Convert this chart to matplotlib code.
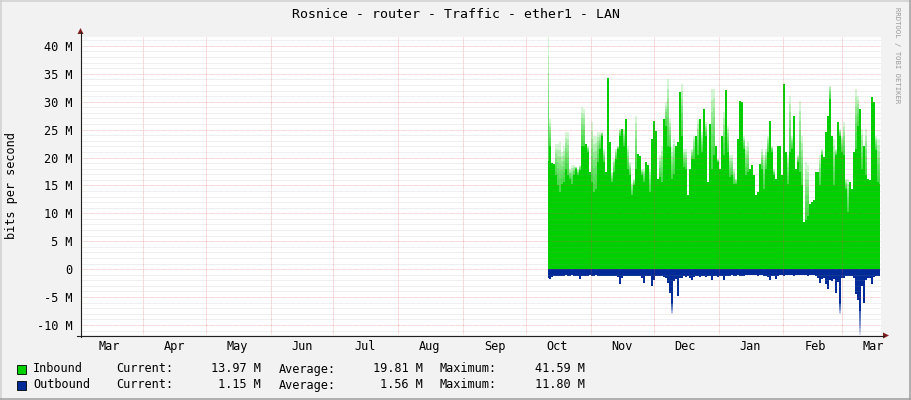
import numpy as np
import pandas as pd
import matplotlib
matplotlib.use("Agg")
import matplotlib.pyplot as plt
from matplotlib.patches import Polygon, Rectangle
from matplotlib.lines import Line2D

# ---------------- data ----------------
title = "Rosnice - router - Traffic - ether1 - LAN"
y_label = "bits per second"
watermark = "RRDTOOL / TOBI OETIKER"

month_labels = ["Mar", "Apr", "May", "Jun", "Jul", "Aug", "Sep",
                "Oct", "Nov", "Dec", "Jan", "Feb", "Mar"]
month_starts = pd.date_range("2022-03-01", "2023-03-01", freq="MS")

view_start = "2022-03-02 09:00"
view_end = "2023-03-19 14:00"
data_start = "2022-10-11 12:00"
data_end = "2023-03-19 02:00"

# Inbound traffic (Mbit/s): solid body and peak tops
inbound_base = [
    19.3, 22.1, 19.0, 18.9, 16.8, 15.0, 13.8, 15.3, 15.6, 18.0,
    16.8, 16.2, 15.3, 16.8, 18.0, 16.8, 17.7, 22.1, 22.1, 22.4,
    21.0, 17.4, 15.6, 13.8, 14.4, 19.2, 21.5, 23.9, 19.2, 17.4,
    34.3, 22.7, 15.6, 17.4, 19.8, 21.5, 23.9, 25.1, 22.1, 26.9,
    18.0, 16.8,
    13.2, 15.0, 18.0, 20.7, 20.2, 16.8, 15.6, 19.2, 18.6, 13.8,
    23.3, 26.6, 24.8, 16.2, 16.5, 15.6, 26.9, 25.7, 22.1, 21.8,
    16.2, 17.1, 22.1, 22.7, 31.7, 23.9, 18.3, 18.0, 13.2, 18.0,
    19.8, 19.8, 23.9, 20.4, 26.9, 21.0, 28.7, 23.9, 15.6, 26.0,
    18.0,
    20.4, 22.1, 19.2, 18.0, 23.9, 20.4, 32.1, 21.0, 16.5, 16.8,
    15.3, 15.3, 23.3, 30.2, 29.9, 21.5, 16.8, 17.4, 18.0, 18.6,
    16.8, 13.2, 13.8, 18.9, 18.0, 14.4, 18.0, 21.0, 26.6, 21.0,
    16.8, 16.2, 22.1, 22.1, 16.8, 33.2, 21.0, 15.3, 21.0, 21.5,
    27.5, 18.0,
    19.2, 17.4, 15.0, 8.5, 8.8, 9.6, 11.7, 12.0, 12.3, 17.4,
    17.4, 15.0, 20.4, 20.1, 24.5, 27.5, 30.5, 23.9, 15.0, 20.4,
    26.3, 23.9, 21.0, 20.4, 14.4, 10.2, 15.6, 14.4, 21.0, 21.5,
    25.7, 28.7, 18.0, 22.1, 16.8, 16.2, 15.9, 30.8, 29.9, 21.3,
    15.6, 15.3,
]
inbound_peak = [
    41.59, 26.9, 19.0, 18.9, 22.4, 22.4, 22.7, 21.0, 22.1, 24.5,
    24.5, 18.0, 18.6, 18.6, 18.3, 18.0, 18.6, 29.0, 28.7, 22.4,
    22.1, 17.4, 26.3, 23.9, 23.9, 24.5, 24.5, 24.5, 21.5, 17.4,
    34.3, 22.7, 17.4, 19.8, 21.5, 22.1, 25.1, 25.1, 25.1, 26.9,
    22.1, 19.2,
    15.6, 16.2, 27.5, 20.7, 20.2, 18.0, 18.0, 19.2, 18.6, 18.0,
    23.3, 26.6, 24.8, 16.2, 20.4, 22.1, 26.9, 29.9, 34.0, 26.9,
    21.8, 23.3, 22.1, 22.7, 31.7, 33.2, 21.5, 21.5, 13.2, 18.0,
    21.5, 23.9, 23.9, 26.9, 26.9, 24.5, 28.7, 26.3, 15.6, 26.0,
    32.3,
    32.3, 22.1, 19.8, 18.0, 23.9, 28.1, 32.1, 25.7, 20.4, 20.4,
    18.0, 16.2, 23.3, 30.2, 29.9, 23.9, 22.1, 22.7, 18.0, 18.6,
    16.8, 13.2, 13.8, 18.9, 21.5, 20.4, 21.5, 23.9, 26.6, 22.1,
    18.0, 16.2, 22.1, 22.1, 16.8, 33.2, 21.0, 20.4, 31.1, 23.9,
    27.5, 18.0,
    20.4, 30.2, 23.9, 8.5, 19.2, 18.6, 11.7, 12.0, 12.3, 17.4,
    17.4, 20.4, 21.5, 20.1, 24.5, 27.5, 32.9, 23.9, 23.3, 21.5,
    26.3, 25.1, 23.9, 26.3, 16.2, 16.2, 15.6, 14.4, 21.0, 32.3,
    31.1, 28.7, 25.1, 22.1, 25.1, 16.2, 15.9, 30.8, 29.9, 23.9,
    23.3, 23.3,
]
# Outbound traffic (Mbit/s, drawn below zero)
outbound = [
    1.5, 1.8, 1.4, 1.3, 1.3, 1.2, 1.3, 1.2, 1.2, 1.1,
    1.2, 1.2, 1.1, 1.2, 1.2, 1.3, 1.7, 1.2, 1.2, 1.3,
    1.2, 1.1, 1.2, 1.2, 1.1, 1.2, 1.2, 1.3, 1.2, 1.2,
    1.3, 1.2, 1.2, 1.3, 1.2, 1.4, 2.7, 1.5, 1.2, 1.2,
    1.2, 1.2, 1.2, 1.3, 1.2, 1.2, 1.3, 1.5, 2.4, 1.3,
    1.2, 1.3, 3.0, 2.0, 1.2, 1.3, 1.2, 1.2, 1.4, 1.6,
    2.5, 4.2, 6.3, 2.2, 1.8, 4.8, 1.6, 1.5, 1.3, 1.4,
    1.3, 1.6, 2.0, 1.4, 1.3, 1.2, 1.4, 1.3, 1.2, 1.4,
    1.3, 1.2, 1.9,
    1.3, 1.2, 1.4, 1.3, 1.2, 1.9, 1.3, 1.2, 1.2, 1.1,
    1.2, 1.2, 1.1, 1.3, 1.2, 1.2, 1.1, 1.0, 1.1, 1.1,
    1.0, 1.1, 1.2, 1.1, 1.1, 1.3, 1.2, 1.4, 2.0, 1.3,
    1.2, 1.7, 1.2, 1.1, 1.1, 1.2, 1.1, 1.1, 1.0, 1.1,
    1.2, 1.1, 1.0, 1.1, 1.1, 1.1, 1.0, 1.2, 1.1, 1.1,
    1.1, 1.2, 1.5, 2.4, 1.8, 1.6, 2.6, 3.6, 1.9, 2.2,
    1.7, 4.2, 2.3, 6.3, 1.6, 1.5, 1.3, 1.2, 1.2, 1.2,
    1.6, 4.5, 5.5, 7.5, 3.0, 6.0, 2.0, 1.6, 1.5, 2.6,
    1.4, 1.2, 1.2, 1.2,
]
outbound_spike_index = [62, 146, 156]
outbound_spike_peak = [8.1, 8.1, 11.80]

series_names = ["Inbound", "Outbound"]
stat_current = [13.97, 1.15]
stat_average = [19.81, 1.56]
stat_maximum = [41.59, 11.80]

# ---------------- style ----------------
GREEN = "#00CF00"
BLUE = "#002A97"
BACK = (0.95, 0.95, 0.95)
SHADEA = (0.81, 0.81, 0.81)
SHADEB = (0.62, 0.62, 0.62)
GRID = (0.56, 0.56, 0.56, 0.40)
MGRID = (0.87, 0.31, 0.31, 0.45)
ARROW = (0.5, 0.12, 0.12)
AXIS = (0.12, 0.12, 0.12)
MONO = "DejaVu Sans Mono"
FS = 8.6

W, H = 911, 400


def fx(px):
    return px / W


def fy(py):
    return 1 - py / H


fig = plt.figure(figsize=(W / 100, H / 100), dpi=100, facecolor=BACK)
ax = fig.add_axes([fx(81), fy(335), fx(881) - fx(81), fy(37) - fy(335)])
ax.set_facecolor("white")
for s in ax.spines.values():
    s.set_visible(False)

t = pd.date_range(data_start, data_end, periods=len(inbound_base))
in_base = np.array(inbound_base)
in_peak = np.array(inbound_peak)
out_base = np.array(outbound)
out_peak = out_base.copy()
out_peak[outbound_spike_index] = outbound_spike_peak

# faded peak tops: stacked translucent layers give a green-to-white fade
n_layers = 7
for k in range(1, n_layers + 1):
    f = k / n_layers
    ax.fill_between(t, in_base, in_base + (in_peak - in_base) * f, step="mid",
                    color=GREEN, alpha=0.16, lw=0, zorder=2)
    ax.fill_between(t, -out_base, -(out_base + (out_peak - out_base) * f), step="mid",
                    color=BLUE, alpha=0.16, lw=0, zorder=2)
ax.fill_between(t, 0, in_base, step="mid", color=GREEN, lw=0, zorder=2)
ax.fill_between(t, 0, -out_base, step="mid", color=BLUE, lw=0, zorder=2)

ax.set_xlim(pd.Timestamp(view_start), pd.Timestamp(view_end))
ax.set_ylim(-out_peak.max(), in_peak.max())

# grid (drawn over the data, as rrdtool does)
dash = (0.72, 0.72)
for v in range(-11, 42):
    if v % 5:
        ax.axhline(v, color=GRID, lw=0.5, dashes=dash, zorder=3)
for v in range(-10, 41, 5):
    ax.axhline(v, color=MGRID, lw=0.6, dashes=dash, zorder=3)
for d in month_starts[1:]:
    ax.axvline(d, color=MGRID, lw=0.6, dashes=dash, zorder=3)

# ticks
yt = list(range(-10, 41, 5))
ax.set_yticks(yt)
ax.set_yticklabels(["0" if v == 0 else f"{v} M" for v in yt],
                   family=MONO, fontsize=FS)
label_dates = month_starts + pd.Timedelta(days=15)
ax.set_xticks(label_dates)
ax.set_xticklabels(month_labels, family=MONO, fontsize=FS)
ax.tick_params(axis="y", length=0, pad=6.2)
ax.tick_params(axis="x", length=0, pad=3.5)

# axis lines and arrows
fig.add_artist(Line2D([fx(80.5), fx(80.5)], [fy(337), fy(32)], color=AXIS, lw=0.8))
fig.add_artist(Line2D([fx(77), fx(884)], [fy(335.5), fy(335.5)], color=AXIS, lw=0.8))
fig.add_artist(Polygon([(fx(77.5), fy(34)), (fx(83.5), fy(34)), (fx(80.5), fy(28))],
                       closed=True, transform=fig.transFigure, color=ARROW, lw=0))
fig.add_artist(Polygon([(fx(883), fy(332.5)), (fx(883), fy(338.5)), (fx(889), fy(335.5))],
                       closed=True, transform=fig.transFigure, color=ARROW, lw=0))

# texts
fig.text(fx(455.5), fy(14), title, ha="center", va="center", family=MONO, fontsize=9.5)
fig.text(fx(12), fy(186), y_label, rotation=90, ha="center", va="center",
         family=MONO, fontsize=FS)
fig.text(fx(897), fy(7), watermark, rotation=270, ha="center", va="top",
         family=MONO, fontsize=5.2, color=(0.6, 0.6, 0.6))

# legend
colors = [GREEN, BLUE]
rows_y = [369, 385]
for i, name in enumerate(series_names):
    yy = rows_y[i]
    fig.add_artist(Rectangle((fx(17), fy(yy + 4.5)), 9 / W, 9 / H,
                             transform=fig.transFigure, facecolor=colors[i],
                             edgecolor="black", lw=0.6))
    fig.text(fx(33), fy(yy), name, ha="left", va="center", family=MONO, fontsize=FS)
    fig.text(fx(116), fy(yy), "Current:", ha="left", va="center", family=MONO, fontsize=FS)
    fig.text(fx(261), fy(yy), f"{stat_current[i]:.2f} M", ha="right", va="center",
             family=MONO, fontsize=FS)
    fig.text(fx(279), fy(yy), "Average:", ha="left", va="center", family=MONO, fontsize=FS)
    fig.text(fx(423), fy(yy), f"{stat_average[i]:.2f} M", ha="right", va="center",
             family=MONO, fontsize=FS)
    fig.text(fx(440), fy(yy), "Maximum:", ha="left", va="center", family=MONO, fontsize=FS)
    fig.text(fx(585), fy(yy), f"{stat_maximum[i]:.2f} M", ha="right", va="center",
             family=MONO, fontsize=FS)

# 3D frame
fig.add_artist(Line2D([0, 1], [fy(0.7), fy(0.7)], color=SHADEA, lw=1.1))
fig.add_artist(Line2D([fx(0.7), fx(0.7)], [0, 1], color=SHADEA, lw=1.1))
fig.add_artist(Line2D([fx(910.3), fx(910.3)], [0, 1], color=SHADEB, lw=1.1))
fig.add_artist(Line2D([0, 1], [fy(399.3), fy(399.3)], color=SHADEB, lw=1.1))

fig.savefig("out.png", dpi=100, facecolor=BACK)
